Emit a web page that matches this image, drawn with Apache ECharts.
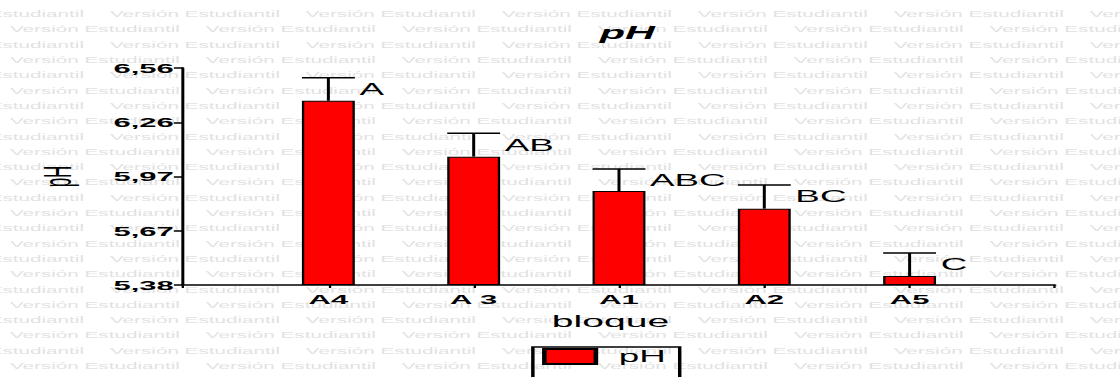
<!DOCTYPE html>
<html>
<head>
<meta charset="utf-8">
<script src="https://cdn.jsdelivr.net/npm/echarts@6/dist/echarts.min.js"></script>
<style>
  html, body { margin: 0; padding: 0; background: #fff; overflow: hidden; }
  #wrap { width: 1120px; height: 377px; overflow: hidden; }
  #c { width: 487px; height: 377px; transform: scaleX(2.2998); transform-origin: 0 0; }
</style>
</head>
<body>
<div id="wrap"><div id="c"></div></div>
<script>
// ---- data ----
const categories = ['A4', 'A 3', 'A1', 'A2', 'A5'];
const means = [6.382, 6.078, 5.891, 5.795, 5.429];
const errors = [0.125, 0.127, 0.120, 0.129, 0.125];
const letters = ['A', 'AB', 'ABC', 'BC', 'C'];
const yTicks = [5.38, 5.675, 5.97, 6.265, 6.56];
const yTickLabels = ['5,38', '5,67', '5,97', '6,26', '6,56'];
const watermarkText = 'Versión Estudiantil';

// ---- build ----
const FONT = '"Liberation Sans", Arial, sans-serif';
const BAR_W = 23;
const axisData = [''].concat(categories, ['']);
const barData = means.map((v, i) => [i + 1, v]);
const errData = means.map((v, i) => [i + 1, v, errors[i], i]);

const W = 487;
const wm = [];
for (let k = 0; k < 25; k++) {
  const y = 14 + 15.3 * k;
  let x = (k % 2 === 0) ? 47.8 - 85.2 : 4.3 - 85.2;
  for (; x < W; x += 85.2) {
    wm.push({
      type: 'text', x: x, y: y, z: -10, silent: true,
      style: { text: watermarkText, fill: '#e2e2e2', font: '9px ' + FONT, verticalAlign: 'middle', align: 'left' }
    });
  }
}

const chart = echarts.init(document.getElementById('c'), null, { renderer: 'svg' });
chart.setOption({
  animation: false,
  backgroundColor: '#fff',
  graphic: wm,
  title: {
    text: 'pH', left: 267.8, top: 19, textAlign: 'center',
    textStyle: { fontFamily: FONT, fontSize: 18, fontWeight: 'bold', fontStyle: 'italic', color: '#000' }
  },
  legend: {
    left: 231.7, top: 347,
    padding: [1, 6, 20, 4],
    borderColor: '#000', borderWidth: 1.5,
    itemWidth: 22.4, itemHeight: 15,
    icon: 'rect',
    textStyle: { fontFamily: FONT, fontSize: 16, color: '#000', padding: [5, 0, 0, 5] },
    data: ['pH']
  },
  grid: { left: 79.6, right: 28.3, top: 68, bottom: 92, containLabel: false },
  xAxis: {
    type: 'category', data: axisData, boundaryGap: false,
    name: 'bloque', nameLocation: 'middle', nameGap: 28,
    nameTextStyle: { fontFamily: FONT, fontSize: 17, color: '#000', padding: [0, 7.4, 0, 0] },
    axisLine: { lineStyle: { color: '#000', width: 1.5 } },
    axisTick: { show: true, length: 3, interval: 0, lineStyle: { color: '#000', width: 1 } },
    axisLabel: { interval: 0, margin: 7, fontFamily: FONT, fontSize: 13.5, fontWeight: 'bold', color: '#000' },
    splitLine: { show: false }
  },
  yAxis: {
    type: 'value', min: 5.38, max: 6.56, startValue: 5.38,
    name: 'pH', nameLocation: 'middle', nameRotate: 90, nameGap: 46,
    nameTextStyle: { fontFamily: FONT, fontSize: 17, color: '#000' },
    axisLine: { show: true, lineStyle: { color: '#000', width: 1.3 } },
    axisTick: { show: true, length: 4, customValues: yTicks, lineStyle: { color: '#000', width: 1.5 } },
    axisLabel: {
      margin: 4, customValues: yTicks, fontFamily: FONT, fontSize: 13.5, fontWeight: 'bold', color: '#000',
      formatter: function (v) {
        let best = 0;
        for (let i = 1; i < yTicks.length; i++) if (Math.abs(yTicks[i] - v) < Math.abs(yTicks[best] - v)) best = i;
        return yTickLabels[best];
      }
    },
    splitLine: { show: false }
  },
  series: [
    {
      name: 'pH', type: 'bar', data: barData, barWidth: BAR_W,
      itemStyle: { color: '#ff0000', borderColor: '#000', borderWidth: 1 },
      z: 2
    },
    {
      name: 'err', type: 'custom', data: errData, z: 3,
      renderItem: function (params, api) {
        const x = api.value(0), m = api.value(1), e = api.value(2), idx = api.value(3);
        const pTop = api.coord([x, m]);
        const pErr = api.coord([x, m + e]);
        const hw = BAR_W / 2;
        return {
          type: 'group',
          children: [
            { type: 'line', shape: { x1: pTop[0], y1: pTop[1], x2: pErr[0], y2: pErr[1] }, style: { stroke: '#000', lineWidth: 1.3 } },
            { type: 'line', shape: { x1: pErr[0] - hw, y1: pErr[1], x2: pErr[0] + hw, y2: pErr[1] }, style: { stroke: '#000', lineWidth: 1.5 } },
            { type: 'text', x: pTop[0] + hw + 2, y: (pTop[1] + pErr[1]) / 2,
              style: { text: letters[idx], fill: '#000', font: '16px ' + FONT, align: 'left', verticalAlign: 'middle' } }
          ]
        };
      }
    }
  ]
});
</script>
</body>
</html>
